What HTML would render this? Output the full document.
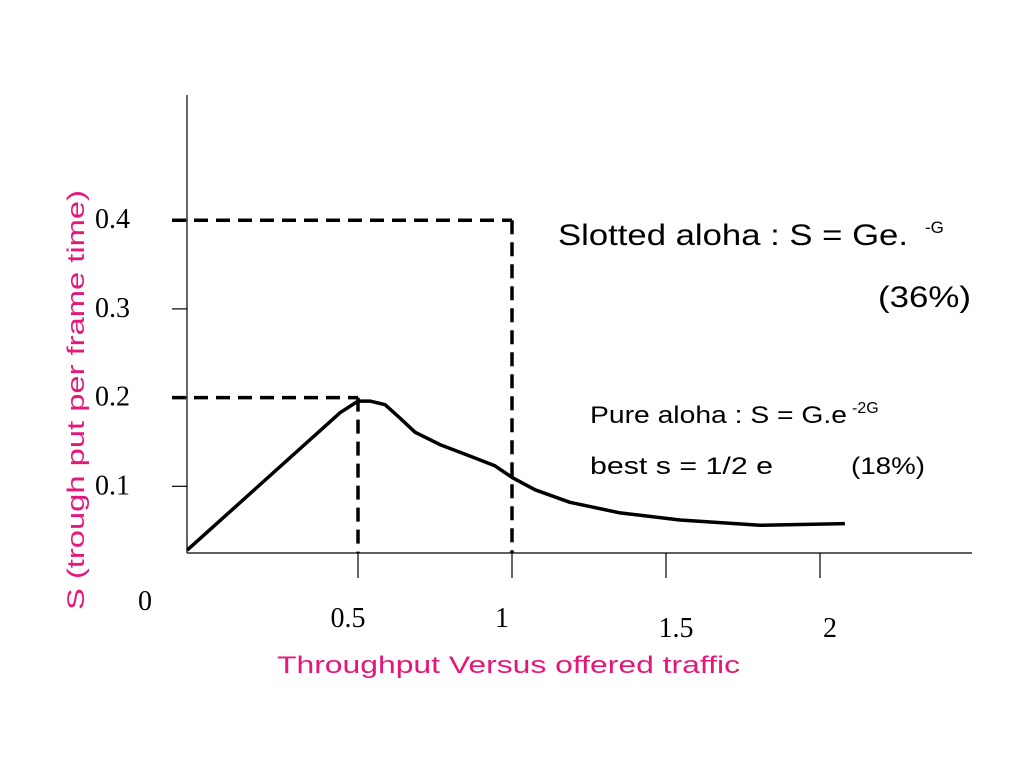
<!DOCTYPE html>
<html><head><meta charset="utf-8"><style>
body{margin:0;background:#fff;}
svg{display:block;}
.tk{font-family:"Liberation Serif",serif;font-size:28px;fill:#000;}
.an{font-family:"Liberation Sans",sans-serif;fill:#000;}
.pk{font-family:"Liberation Sans",sans-serif;font-size:24px;fill:#e5177b;}
</style></head><body>
<svg width="1024" height="768" xmlns="http://www.w3.org/2000/svg">
<g id="axes">
<line x1="187" y1="95" x2="187" y2="553" stroke="#000" stroke-width="1.2"/>
<line x1="187" y1="553" x2="972" y2="553" stroke="#000" stroke-width="1.2"/>
</g>
<g id="ticks"></g>
<g id="guides"></g>
<path id="curve" fill="none" stroke="#000" stroke-width="3.5" stroke-linejoin="round"/>
<text class="tk" x="138" y="610">0</text>
<text class="pk" x="277" y="673" textLength="463" lengthAdjust="spacingAndGlyphs">Throughput Versus offered traffic</text>
<text class="pk" transform="translate(84,610) rotate(-90)" textLength="420" lengthAdjust="spacingAndGlyphs">S (trough put per frame time)</text>
<text class="an" x="558" y="245" font-size="30" textLength="350" lengthAdjust="spacingAndGlyphs">Slotted aloha : S = Ge.</text>
<text class="an" x="925" y="233" font-size="17">-G</text>
<text class="an" x="878" y="307" font-size="30" textLength="93" lengthAdjust="spacingAndGlyphs">(36%)</text>
<text class="an" x="590" y="423" font-size="24" textLength="257" lengthAdjust="spacingAndGlyphs">Pure aloha : S = G.e</text>
<text class="an" x="852" y="413" font-size="16">-2G</text>
<text class="an" x="590" y="474" font-size="24" textLength="183" lengthAdjust="spacingAndGlyphs">best s = 1/2 e</text>
<text class="an" x="851" y="474" font-size="24" textLength="74" lengthAdjust="spacingAndGlyphs">(18%)</text>
<script>
const xTicks=[0.5,1,1.5,2];
const xTickLabels=["0.5","1","1.5","2"];
const yTicks=[0.1,0.2,0.3,0.4];
const yTickLabels=["0.1","0.2","0.3","0.4"];
const G=[-0.055,0.442,0.5,0.539,0.588,0.636,0.685,0.766,0.864,0.945,1.0,1.075,1.188,1.351,1.545,1.805,2.081];
const S=[0.028,0.183,0.196,0.196,0.192,0.177,0.161,0.147,0.134,0.123,0.110,0.096,0.082,0.070,0.062,0.056,0.058];
const guideX=[0.5,1];
const guideY=[0.2,0.4];
const xs=v=>204+308*v;
const ys=v=>575-887*v;
const NS="http://www.w3.org/2000/svg";
const tg=document.getElementById('ticks');
function mk(tag,attrs,parent){const e=document.createElementNS(NS,tag);for(const k in attrs)e.setAttribute(k,attrs[k]);parent.appendChild(e);return e;}
xTicks.forEach((v,i)=>{
 const l=mk('line',{x1:xs(v),x2:xs(v),y1:553,y2:578,stroke:'#000','stroke-width':1.2},tg);
 
 
 const t=mk('text',{x:xs(v)+(i<2?-10:10),y:i<2?627:637,'text-anchor':'middle',class:'tk'},tg);
 t.textContent=xTickLabels[i];
 
 
});
yTicks.forEach((v,i)=>{
 const l=mk('line',{x1:172,x2:187,y1:ys(v),y2:ys(v),stroke:'#000','stroke-width':1.2},tg);
 
 
 const t=mk('text',{x:95,y:ys(v)+8,class:'tk'},tg);
 t.textContent=yTickLabels[i];
 
 
});
const gg=document.getElementById('guides');
guideX.forEach((gx,i)=>{
 const gy=guideY[i];
 const h=mk('line',{x1:172,x2:xs(gx),y1:ys(gy),y2:ys(gy),stroke:'#000','stroke-width':3.5,'stroke-dasharray':'14 8'},gg);
 
 
 const v=mk('line',{x1:xs(gx),x2:xs(gx),y1:ys(gy),y2:553,stroke:'#000','stroke-width':3.5,'stroke-dasharray':'14 8'},gg);
 
 
});
let d='';
G.forEach((g,i)=>{d+=(i?'L':'M')+xs(g).toFixed(1)+','+ys(S[i]).toFixed(1);});
document.getElementById('curve').setAttribute('d',d);
</script>
</svg>
</body></html>
